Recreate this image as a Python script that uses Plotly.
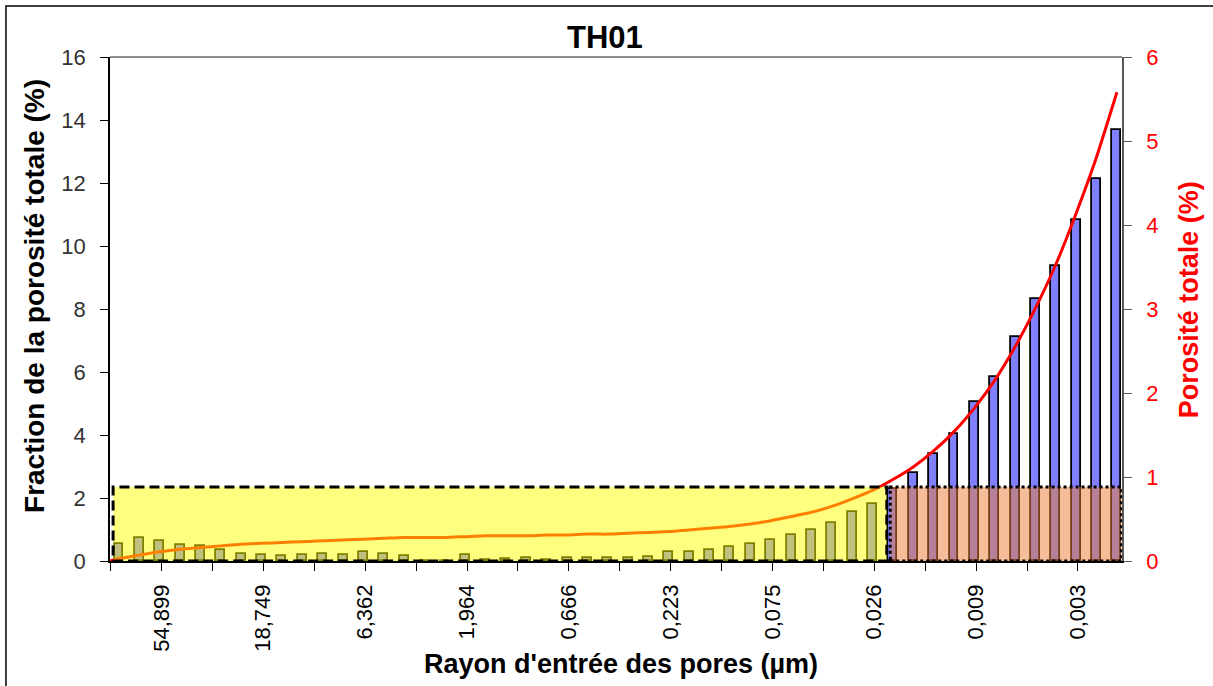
import plotly.graph_objects as go

# ---------------- data ----------------
x_tick_labels = ["54,899", "18,749", "6,362", "1,964", "0,666",
                 "0,223", "0,075", "0,026", "0,009", "0,003"]

# Fraction de la porosité totale (%) - one bar per pore-radius class
fraction = [0.53, 0.74, 0.63, 0.51, 0.47, 0.35, 0.23, 0.18, 0.15, 0.19,
            0.23, 0.19, 0.28, 0.23, 0.15, 0.00, 0.00, 0.19, 0.02, 0.06,
            0.08, 0.02, 0.10, 0.10, 0.10, 0.10, 0.14, 0.28, 0.28, 0.35,
            0.45, 0.55, 0.67, 0.84, 0.99, 1.20, 1.57, 1.81, 2.30, 2.80,
            3.39, 4.03, 5.06, 5.83, 7.12, 8.31, 9.37, 10.83, 12.13, 13.67]

# Porosité totale cumulée (%) - right axis, one point per class
porosite = [0.03, 0.07, 0.11, 0.14, 0.16, 0.18, 0.20, 0.21, 0.22, 0.23,
            0.24, 0.25, 0.26, 0.27, 0.28, 0.28, 0.28, 0.29, 0.30, 0.30,
            0.30, 0.31, 0.31, 0.32, 0.32, 0.33, 0.34, 0.35, 0.37, 0.39,
            0.41, 0.44, 0.48, 0.53, 0.58, 0.65, 0.74, 0.84, 0.97, 1.12,
            1.31, 1.54, 1.82, 2.15, 2.55, 3.01, 3.53, 4.14, 4.81, 5.58]
porosite_start = 0.0

# zones highlighted on the chart (class index limits, left-axis level)
zone_split = 37.8
zone_level = 2.35

# ---------------- layout geometry ----------------
W, H = 1213, 686
PL, PR, PT, PB = 110, 1121.7, 57, 561          # plot area in pixels
n = len(fraction)
x_min, x_max = -0.442, 49.25

def pxx(p):
    return (p - PL) / (PR - PL)

def pxy(p):
    return (PB - p) / (PB - PT)

FONT = "Liberation Sans, Arial, sans-serif"

xs = list(range(n))
tick_pos = [x_min + 0.03 + 2.5 * k for k in range(2 * len(x_tick_labels))]
tick_txt = []
for k in range(len(tick_pos)):
    tick_txt.append(x_tick_labels[k // 2] if k % 2 == 1 else "")

fig = go.Figure()
fig.add_trace(go.Bar(
    x=xs, y=fraction, width=0.44,
    marker=dict(color="#8080FF", line=dict(color="black", width=1.8)),
    showlegend=False, hoverinfo="skip"))
fig.add_trace(go.Scatter(
    x=[x_min] + xs, y=[porosite_start] + porosite, yaxis="y2",
    mode="lines", line=dict(color="#FF0000", width=3, shape="spline", smoothing=0.6),
    showlegend=False, hoverinfo="skip"))

shapes = [
    # yellow zone
    dict(type="rect", xref="x", yref="y", x0=-0.29, x1=zone_split - 0.1,
         y0=0, y1=zone_level, layer="above",
         fillcolor="rgba(255,255,0,0.5)",
         line=dict(color="black", width=3, dash="10px,5px")),
    # orange zone
    dict(type="rect", xref="x", yref="y", x0=zone_split + 0.07, x1=x_max - 0.03,
         y0=0, y1=zone_level, layer="above",
         fillcolor="rgba(237,125,49,0.5)",
         line=dict(color="black", width=3, dash="3px,3px")),
    # top border of plot area
    dict(type="line", xref="paper", yref="paper", x0=0, x1=1, y0=1, y1=1,
         line=dict(color="#8C8C8C", width=2)),
    # chart outer border
    dict(type="rect", xref="paper", yref="paper",
         x0=pxx(6), x1=pxx(1225), y0=pxy(700), y1=pxy(6),
         line=dict(color="black", width=1.5), fillcolor="rgba(0,0,0,0)", layer="below"),
]

annotations = [
    dict(text="<b>TH01</b>", x=pxx(605), y=pxy(38), xref="paper", yref="paper",
         showarrow=False, xanchor="center", yanchor="middle",
         font=dict(family=FONT, size=31, color="black")),
    dict(text="<b>Rayon d'entrée des pores (µm)</b>", x=pxx(621), y=pxy(664),
         xref="paper", yref="paper", showarrow=False, xanchor="center", yanchor="middle",
         font=dict(family=FONT, size=27, color="black")),
    dict(text="<b>Fraction de la porosité totale (%)</b>", x=pxx(34), y=pxy(296),
         xref="paper", yref="paper", showarrow=False, xanchor="center", yanchor="middle",
         textangle=-90, font=dict(family=FONT, size=28, color="black")),
    dict(text="<b>Porosité totale (%)</b>", x=pxx(1189), y=pxy(300),
         xref="paper", yref="paper", showarrow=False, xanchor="center", yanchor="middle",
         textangle=-90, font=dict(family=FONT, size=27, color="#FF0000")),
]

fig.update_layout(
    width=W, height=H,
    margin=dict(l=PL, r=W - PR, t=PT, b=H - PB, pad=0),
    paper_bgcolor="white", plot_bgcolor="white",
    bargap=0, shapes=shapes, annotations=annotations,
    xaxis=dict(range=[x_min, x_max], tickmode="array", tickvals=tick_pos,
               ticktext=tick_txt, tickangle=-90, ticks="outside", ticklen=8,
               tickcolor="black", tickwidth=1.3, showline=True, linecolor="black",
               linewidth=1.5, showgrid=False, zeroline=False, ticklabelstandoff=5,
               tickfont=dict(family=FONT, size=22, color="black")),
    yaxis=dict(range=[0, 16], dtick=2, ticks="outside", ticklen=8, tickcolor="black",
               tickwidth=1.3, showline=True, linecolor="black", linewidth=1.5,
               showgrid=False, zeroline=False, ticklabelstandoff=10,
               tickfont=dict(family=FONT, size=22, color="#333333")),
    yaxis2=dict(range=[0, 6], dtick=1, overlaying="y", side="right", ticks="outside",
                ticklen=8, tickcolor="#595959", tickwidth=1.3, showline=True,
                linecolor="#595959", linewidth=1.5, showgrid=False, zeroline=False,
                ticklabelstandoff=10,
                tickfont=dict(family=FONT, size=22, color="#FF0000")),
)

fig.write_html("out.html", config={"displayModeBar": False},
               post_script="document.body.style.margin='0';")
